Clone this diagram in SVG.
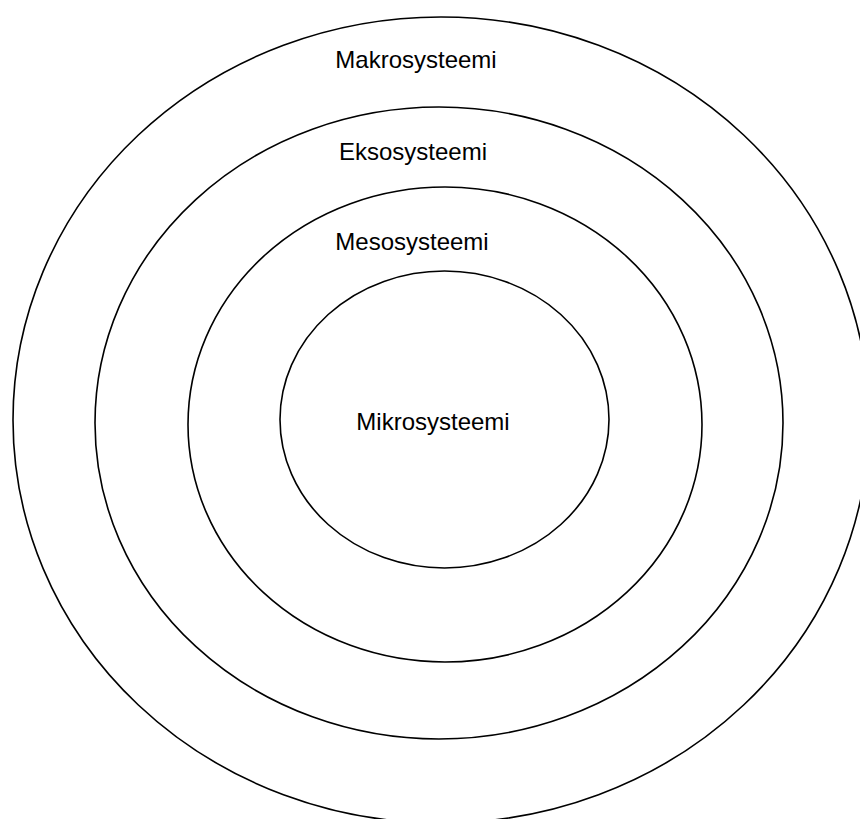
<svg xmlns="http://www.w3.org/2000/svg" width="860" height="819" viewBox="0 0 860 819">
<style>
.ring{fill:none;stroke:#000;stroke-width:1.6}
.lbl{font-family:"Liberation Sans",Arial,sans-serif;font-size:24px;fill:#000;text-anchor:middle}
</style>
<rect width="860" height="819" fill="#fff"/>
<g id="makrosysteemi">
<ellipse class="ring" cx="441" cy="420" rx="428" ry="403"/>
<text class="lbl" x="416" y="68">Makrosysteemi</text>
</g>
<g id="eksosysteemi">
<ellipse class="ring" cx="439" cy="423" rx="344" ry="316"/>
<text class="lbl" x="413" y="160">Eksosysteemi</text>
</g>
<g id="mesosysteemi">
<ellipse class="ring" cx="445" cy="424.5" rx="257" ry="237.5"/>
<text class="lbl" x="412" y="250">Mesosysteemi</text>
</g>
<g id="mikrosysteemi">
<ellipse class="ring" cx="444.5" cy="419.5" rx="164.5" ry="148.5"/>
<text class="lbl" x="433" y="430">Mikrosysteemi</text>
</g>
<g id="connectors"></g>
</svg>
